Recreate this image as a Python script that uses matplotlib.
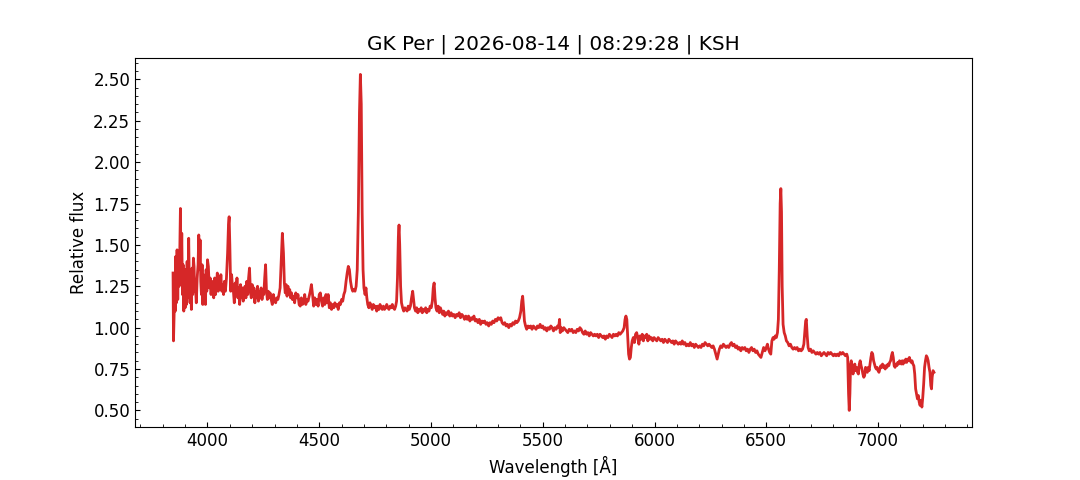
import matplotlib
matplotlib.use("Agg")
import matplotlib.pyplot as plt
from matplotlib.ticker import AutoMinorLocator

plt.rcParams['font.size'] = 12

# wavelength [A] and relative flux
blue_wl = [3846, 3848, 3851, 3853, 3856, 3858, 3861, 3864, 3867, 3870, 3873,
           3876, 3879, 3882, 3885, 3888, 3891, 3894, 3897, 3900, 3903,
           3906, 3909, 3912, 3916, 3919, 3922, 3925, 3928, 3931, 3934,
           3937, 3940, 3943, 3946, 3950, 3954, 3958, 3961, 3964, 3967,
           3970, 3973, 3976, 3979, 3982, 3985, 3988, 3991, 3994, 3997,
           4000, 4004, 4008, 4012, 4016, 4020, 4024, 4028, 4032, 4036,
           4040, 4044, 4048, 4052, 4056, 4060, 4064, 4068, 4072, 4076,
           4080, 4085, 4090, 4094, 4097, 4100, 4104, 4108, 4112, 4116,
           4120, 4124, 4128, 4132, 4136, 4140, 4144, 4148, 4152, 4156,
           4160, 4164, 4168, 4172, 4176, 4180, 4184, 4188, 4192, 4196,
           4200, 4204, 4208, 4212, 4216, 4220, 4224, 4228, 4232, 4236,
           4240, 4244, 4248, 4252, 4256, 4260, 4264, 4268, 4272, 4276,
           4280, 4285, 4290, 4295, 4300, 4305, 4310, 4315, 4320, 4325,
           4330, 4335, 4340, 4344, 4348, 4352, 4356, 4360, 4364, 4368,
           4372, 4376, 4380, 4385]
blue_flux = [1.33, 0.92, 1.09, 1.30, 1.10, 1.43, 1.15, 1.47, 1.17, 1.42, 1.25,
             1.45, 1.72, 1.30, 1.57, 1.20, 1.38, 1.10, 1.30, 1.12, 1.35,
             1.14, 1.40, 1.18, 1.54, 1.25, 1.15, 1.32, 1.11, 1.36, 1.20,
             1.42, 1.37, 1.22, 1.25, 1.15, 1.30, 1.38, 1.56, 1.35, 1.53,
             1.28, 1.20, 1.38, 1.14, 1.32, 1.18, 1.28, 1.14, 1.35, 1.22,
             1.41, 1.37, 1.24, 1.30, 1.20, 1.28, 1.22, 1.18, 1.30, 1.20,
             1.26, 1.33, 1.22, 1.30, 1.24, 1.32, 1.22, 1.26, 1.20, 1.28,
             1.22, 1.30, 1.45, 1.62, 1.67, 1.50, 1.22, 1.32, 1.24, 1.22,
             1.15, 1.27, 1.20, 1.30, 1.18, 1.24, 1.14, 1.26, 1.18, 1.24,
             1.16, 1.22, 1.25, 1.18, 1.28, 1.20, 1.30, 1.36, 1.22, 1.18,
             1.26, 1.20, 1.24, 1.15, 1.22, 1.18, 1.25, 1.16, 1.22, 1.18,
             1.24, 1.17, 1.22, 1.20, 1.30, 1.38, 1.22, 1.17, 1.22, 1.18,
             1.21, 1.17, 1.14, 1.20, 1.16, 1.15, 1.18, 1.17, 1.20, 1.24,
             1.40, 1.57, 1.45, 1.27, 1.21, 1.26, 1.19, 1.25, 1.20, 1.23,
             1.18, 1.21, 1.17, 1.19]

mid_wl = [4390, 4395, 4400, 4405, 4410, 4415, 4420, 4425, 4430, 4435,
          4440, 4445, 4450, 4455, 4460, 4465, 4470, 4475, 4480, 4485,
          4490, 4495, 4500, 4505, 4510, 4515, 4520, 4525, 4530, 4535,
          4540, 4545, 4550, 4555, 4560, 4565, 4570, 4575, 4580, 4585,
          4590, 4595, 4600, 4605, 4610, 4615, 4620, 4625, 4630, 4635,
          4640, 4645, 4650, 4655, 4660, 4665, 4670, 4675, 4680, 4684,
          4688, 4692, 4696, 4700, 4705, 4709, 4713, 4717, 4722, 4727,
          4732, 4737, 4742, 4747, 4752, 4757, 4762, 4767, 4772, 4777,
          4782, 4787, 4792, 4797, 4802, 4807, 4812, 4817, 4822, 4827,
          4832, 4837, 4842, 4846, 4850, 4854, 4857, 4860, 4864, 4868,
          4873, 4878, 4883, 4888, 4893, 4898, 4903, 4908, 4913, 4918,
          4922, 4926, 4931, 4936, 4941, 4946, 4951, 4956, 4961, 4966,
          4971, 4976, 4981, 4986, 4991, 4996, 5001, 5006, 5010, 5014,
          5018, 5022, 5027, 5032, 5037, 5042, 5047]
mid_flux = [1.15, 1.21, 1.18, 1.20, 1.14, 1.13, 1.18, 1.14, 1.15, 1.20,
            1.14, 1.17, 1.16, 1.19, 1.22, 1.26, 1.20, 1.13, 1.18, 1.14,
            1.17, 1.13, 1.20, 1.21, 1.16, 1.13, 1.18, 1.14, 1.20, 1.15,
            1.20, 1.12, 1.15, 1.11, 1.14, 1.12, 1.15, 1.13, 1.14, 1.11,
            1.15, 1.14, 1.17, 1.16, 1.20, 1.22, 1.28, 1.33, 1.37, 1.35,
            1.28, 1.24, 1.22, 1.23, 1.22, 1.25, 1.35, 1.70, 2.30, 2.53,
            2.35, 1.70, 1.35, 1.24, 1.20, 1.24, 1.18, 1.14, 1.12, 1.15,
            1.13, 1.11, 1.14, 1.12, 1.13, 1.10, 1.13, 1.11, 1.14, 1.12,
            1.11, 1.13, 1.11, 1.12, 1.14, 1.12, 1.11, 1.13, 1.12, 1.14,
            1.12, 1.11, 1.13, 1.16, 1.30, 1.55, 1.62, 1.50, 1.25, 1.15,
            1.12, 1.10, 1.12, 1.11, 1.10, 1.13, 1.11, 1.13, 1.18, 1.22,
            1.17, 1.12, 1.10, 1.12, 1.09, 1.11, 1.10, 1.12, 1.09, 1.11,
            1.10, 1.12, 1.09, 1.11, 1.10, 1.13, 1.12, 1.16, 1.24, 1.27,
            1.18, 1.12, 1.10, 1.13, 1.09, 1.12, 1.10]

green_wl = [5052, 5057, 5062, 5067, 5072, 5078, 5084, 5090, 5096, 5102,
            5108, 5114, 5120, 5126, 5132, 5138, 5144, 5150, 5156, 5162,
            5168, 5174, 5180, 5186, 5192, 5198, 5204, 5210, 5216, 5222,
            5228, 5234, 5240, 5246, 5252, 5258, 5264, 5270, 5276, 5282,
            5288, 5294, 5300, 5306, 5312, 5318, 5324, 5330, 5336, 5342,
            5348, 5354, 5360, 5366, 5372, 5378, 5384, 5390, 5396, 5402,
            5406, 5410, 5414, 5418, 5423, 5428, 5434, 5440, 5446, 5452,
            5458, 5464, 5470, 5476, 5482, 5488, 5494, 5500, 5506, 5512,
            5518, 5524, 5530, 5536, 5542, 5548, 5554, 5560, 5566, 5571,
            5575, 5578, 5582, 5588, 5594, 5600, 5606, 5612, 5618, 5624,
            5630, 5636, 5642, 5648, 5654, 5660, 5666, 5672, 5678, 5684,
            5690, 5696, 5702, 5708, 5714, 5720, 5726, 5732, 5738, 5744,
            5750, 5756, 5762, 5768, 5774, 5780, 5786, 5792, 5798, 5804,
            5810, 5816, 5822, 5828, 5834, 5840, 5846, 5852, 5858, 5864,
            5868, 5872, 5876, 5880, 5884, 5888, 5892, 5896, 5900, 5905,
            5910, 5915, 5920, 5925, 5930, 5935, 5940, 5945, 5950, 5955,
            5960, 5965, 5970, 5975, 5980, 5986, 5992, 5998]
green_flux = [1.08, 1.10, 1.07, 1.09, 1.08, 1.10, 1.07, 1.09, 1.07, 1.08,
              1.06, 1.08, 1.07, 1.09, 1.06, 1.08, 1.07, 1.05, 1.07, 1.05,
              1.07, 1.04, 1.06, 1.05, 1.07, 1.04, 1.05, 1.03, 1.05, 1.02,
              1.04, 1.03, 1.04, 1.02, 1.03, 1.01, 1.03, 1.02, 1.04, 1.03,
              1.05, 1.04, 1.06, 1.05, 1.06, 1.03, 1.02, 1.03, 1.01, 1.02,
              1.00, 1.02, 1.01, 1.03, 1.02, 1.04, 1.03, 1.04, 1.06, 1.10,
              1.16, 1.19, 1.12, 1.04, 1.01, 0.99, 1.01, 1.00, 1.01, 0.99,
              1.01, 1.00, 0.99, 1.01, 1.00, 1.02, 1.00, 1.01, 0.99, 1.00,
              0.98, 1.00, 0.99, 1.01, 1.00, 0.98, 1.00, 0.99, 1.01, 1.00,
              1.05, 0.97, 1.00, 0.98, 1.00, 0.99, 0.98, 0.97, 0.99, 0.98,
              0.99, 0.97, 0.98, 0.97, 0.99, 0.98, 1.00, 0.99, 0.97, 0.96,
              0.98, 0.96, 0.97, 0.95, 0.97, 0.96, 0.95, 0.96, 0.95, 0.96,
              0.94, 0.96, 0.95, 0.94, 0.95, 0.93, 0.95, 0.94, 0.96, 0.95,
              0.94, 0.96, 0.95, 0.96, 0.95, 0.97, 0.96, 0.97, 0.98, 1.00,
              1.05, 1.07, 1.05, 0.95, 0.84, 0.81, 0.82, 0.88, 0.92, 0.94,
              0.91, 0.96, 0.97, 0.94, 0.90, 0.95, 0.93, 0.96, 0.92, 0.95,
              0.94, 0.96, 0.92, 0.95, 0.93, 0.94, 0.92, 0.94]

red_wl = [6004, 6010, 6016, 6022, 6028, 6034, 6040, 6046, 6052, 6058,
          6064, 6070, 6076, 6082, 6088, 6094, 6100, 6106, 6112, 6118,
          6124, 6130, 6136, 6142, 6148, 6154, 6160, 6166, 6172, 6178,
          6184, 6190, 6196, 6202, 6208, 6214, 6220, 6226, 6232, 6238,
          6244, 6250, 6256, 6262, 6268, 6274, 6280, 6285, 6290, 6296,
          6302, 6308, 6314, 6320, 6326, 6332, 6338, 6344, 6350, 6356,
          6362, 6368, 6374, 6380, 6386, 6392, 6398, 6404, 6410, 6416,
          6422, 6428, 6434, 6440, 6446, 6452, 6458, 6464, 6470, 6476,
          6482, 6488, 6494, 6500, 6505, 6510, 6515, 6520, 6525, 6530,
          6535, 6540, 6545, 6550, 6554, 6558, 6562, 6565, 6568, 6571,
          6575, 6580, 6585, 6590, 6596, 6602, 6608, 6614, 6620, 6626,
          6632, 6638, 6644, 6650, 6656, 6662, 6668, 6672, 6676, 6679,
          6683, 6687, 6692, 6698, 6704, 6710, 6716, 6722, 6728, 6734,
          6740, 6746, 6752, 6758, 6764, 6770, 6776, 6782, 6788, 6794,
          6800, 6806, 6812, 6818, 6824, 6830, 6836, 6842, 6848, 6854,
          6860, 6864]
red_flux = [0.93, 0.92, 0.94, 0.93, 0.92, 0.93, 0.91, 0.93, 0.92, 0.91,
            0.93, 0.92, 0.91, 0.92, 0.90, 0.92, 0.91, 0.90, 0.91, 0.90,
            0.92, 0.90, 0.91, 0.89, 0.90, 0.89, 0.91, 0.89, 0.90, 0.88,
            0.90, 0.89, 0.88, 0.89, 0.88, 0.90, 0.89, 0.91, 0.90, 0.89,
            0.90, 0.89, 0.88, 0.89, 0.87, 0.84, 0.81, 0.84, 0.87, 0.89,
            0.88, 0.90, 0.89, 0.88, 0.89, 0.88, 0.90, 0.91, 0.89, 0.90,
            0.88, 0.89, 0.87, 0.88, 0.86, 0.88, 0.87, 0.88, 0.86, 0.87,
            0.85, 0.87, 0.88, 0.86, 0.87, 0.85, 0.86, 0.84, 0.83, 0.82,
            0.85, 0.88, 0.86, 0.88, 0.90, 0.87, 0.85, 0.84, 0.92, 0.94,
            0.93, 0.95, 0.94, 0.97, 1.05, 1.35, 1.75, 1.84, 1.70, 1.25,
            1.02, 0.97, 0.95, 0.92, 0.91, 0.89, 0.90, 0.88, 0.87, 0.88,
            0.87, 0.88, 0.86, 0.87, 0.86, 0.87, 0.90, 0.97, 1.04, 1.05,
            0.95, 0.88, 0.86, 0.87, 0.85, 0.86, 0.85, 0.84, 0.85, 0.84,
            0.85, 0.83, 0.84, 0.85, 0.84, 0.83, 0.85, 0.84, 0.85, 0.84,
            0.83, 0.84, 0.83, 0.84, 0.83, 0.85, 0.84, 0.85, 0.84, 0.83,
            0.84, 0.82]

far_red_wl = [6868, 6871, 6874, 6877, 6880, 6884, 6888, 6892, 6896, 6900,
              6904, 6908, 6912, 6916, 6920, 6924, 6928, 6932, 6936, 6940,
              6944, 6948, 6952, 6956, 6960, 6964, 6968, 6972, 6976, 6980,
              6984, 6988, 6992, 6996, 7000, 7004, 7008, 7012, 7016, 7020,
              7024, 7028, 7032, 7036, 7040, 7044, 7048, 7052, 7056, 7060,
              7064, 7068, 7072, 7076, 7080, 7084, 7088, 7092, 7096, 7100,
              7104, 7108, 7112, 7116, 7120, 7124, 7128, 7132, 7136, 7140,
              7144, 7148, 7152, 7156, 7160, 7164, 7168, 7172, 7176, 7180,
              7184, 7188, 7192, 7196, 7200, 7204, 7208, 7212, 7216, 7220,
              7224, 7228, 7232, 7236, 7239, 7242, 7246, 7250]
far_red_flux = [0.60, 0.50, 0.60, 0.78, 0.80, 0.77, 0.72, 0.76, 0.78, 0.74,
                0.76, 0.73, 0.72, 0.78, 0.80, 0.77, 0.75, 0.72, 0.70, 0.71,
                0.76, 0.75, 0.73, 0.76, 0.74, 0.78, 0.82, 0.85, 0.84, 0.80,
                0.78, 0.76, 0.75, 0.76, 0.74, 0.73, 0.75, 0.77, 0.76, 0.78,
                0.76, 0.77, 0.75, 0.77, 0.76, 0.78, 0.77, 0.79, 0.80, 0.83,
                0.85, 0.82, 0.77, 0.76, 0.78, 0.77, 0.79, 0.78, 0.80, 0.79,
                0.78, 0.80, 0.78, 0.80, 0.79, 0.81, 0.79, 0.81, 0.80, 0.82,
                0.80, 0.79, 0.80, 0.78, 0.77, 0.72, 0.63, 0.60, 0.57, 0.59,
                0.55, 0.53, 0.56, 0.52, 0.58, 0.66, 0.76, 0.80, 0.83, 0.82,
                0.80, 0.76, 0.73, 0.65, 0.63, 0.70, 0.74, 0.73]

wavelength = blue_wl + mid_wl + green_wl + red_wl + far_red_wl
flux = blue_flux + mid_flux + green_flux + red_flux + far_red_flux

fig, ax = plt.subplots(figsize=(10.8, 4.8), dpi=100)
ax.plot(wavelength, flux, color='tab:red', linewidth=2)

ax.set_title('GK Per | 2026-08-14 | 08:29:28 | KSH')
ax.set_xlabel('Wavelength [Å]')
ax.set_ylabel('Relative flux')

ax.xaxis.set_minor_locator(AutoMinorLocator())
ax.yaxis.set_minor_locator(AutoMinorLocator())
ax.tick_params(which='both', direction='in')

fig.savefig('out.png', dpi=100)
